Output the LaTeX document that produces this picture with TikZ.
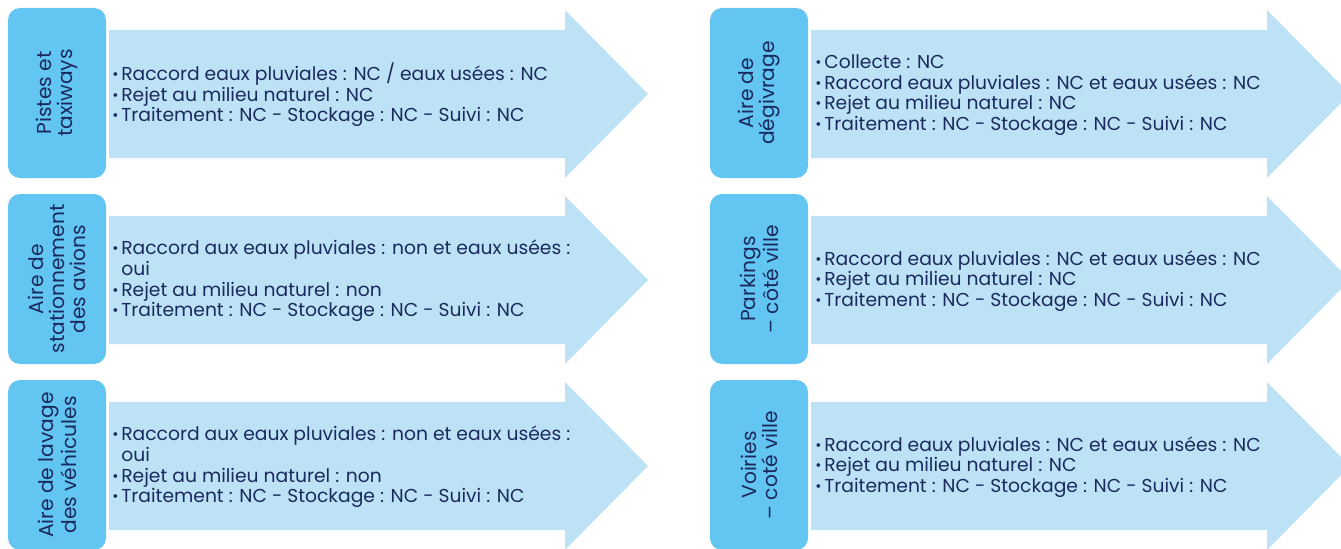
\documentclass[tikz,border=0pt]{standalone}
\usepackage{fontspec}
\setmainfont{Poppins}
\usepackage{xcolor}
\usetikzlibrary{positioning}
\definecolor{blue1}{HTML}{63C5F1}
\definecolor{blue2}{HTML}{BDE2F5}
\definecolor{navy1}{HTML}{1B2A5E}
\newcommand{\puce}{\makebox[0.18cm][l]{\raisebox{0.1ex}{\scalebox{0.8}{\textbullet}}}}
\newcommand{\suite}{\hspace*{0.18cm}}
\newcommand{\fleche}{\fill[blue2] (2.02,0.40) -- (11.14,0.40) -- (11.14,0) -- (12.80,1.68) -- (11.14,3.36) -- (11.14,2.96) -- (2.02,2.96) -- cycle;}
\tikzset{
  zone/.style={fill=blue1, rounded corners=0.24cm, rotate=90, minimum width=3.40cm, minimum height=1.96cm, inner sep=0pt, align=center, text=navy1, font=\fontsize{11.5}{12}\selectfont},
  liste/.style={anchor=west, inner sep=0pt, align=left, text=navy1, font=\fontsize{10.65}{11.7}\selectfont},
}

\begin{document}
\begin{tikzpicture}

\clip (0,0) rectangle (26.82,10.96);

% colonne de gauche
\begin{scope}[shift={(0.16,7.40)}]
\fleche
\node[zone] (pistes) at (0.98,1.70) {Pistes et\\taxiways};
\node[liste] (pistesT) at (2.08,1.66) {\puce Raccord eaux pluviales : NC / eaux usées : NC\\
\puce Rejet au milieu naturel : NC\\
\puce Traitement : NC - Stockage : NC - Suivi : NC};
\end{scope}

\begin{scope}[shift={(0.16,3.68)}]
\fleche
\node[zone] (station) at (0.98,1.70) {Aire de\\stationnement\\des avions};
\node[liste] (stationT) at (2.08,1.66) {\puce Raccord aux eaux pluviales : non et eaux usées :\\
\suite oui\\
\puce Rejet au milieu naturel : non\\
\puce Traitement : NC - Stockage : NC - Suivi : NC};
\end{scope}

\begin{scope}[shift={(0.16,-0.04)}]
\fleche
\node[zone] (lavage) at (0.98,1.70) {Aire de lavage\\des véhicules};
\node[liste] (lavageT) at (2.08,1.66) {\puce Raccord aux eaux pluviales : non et eaux usées :\\
\suite oui\\
\puce Rejet au milieu naturel : non\\
\puce Traitement : NC - Stockage : NC - Suivi : NC};
\end{scope}

% colonne de droite
\begin{scope}[shift={(14.20,7.40)}]
\fleche
\node[zone] (degivrage) at (0.98,1.70) {Aire de\\dégivrage};
\node[liste] (degivrageT) at (2.10,1.66) {\puce Collecte : NC\\
\puce Raccord eaux pluviales : NC et eaux usées : NC\\
\puce Rejet au milieu naturel : NC\\
\puce Traitement : NC - Stockage : NC - Suivi : NC};
\end{scope}

\begin{scope}[shift={(14.20,3.68)}]
\fleche
\node[zone] (parkings) at (0.98,1.70) {Parkings\\– côté ville};
\node[liste] (parkingsT) at (2.10,1.66) {\puce Raccord eaux pluviales : NC et eaux usées : NC\\
\puce Rejet au milieu naturel : NC\\
\puce Traitement : NC - Stockage : NC - Suivi : NC};
\end{scope}

\begin{scope}[shift={(14.20,-0.04)}]
\fleche
\node[zone] (voiries) at (0.98,1.70) {Voiries\\– coté ville};
\node[liste] (voiriesT) at (2.10,1.66) {\puce Raccord eaux pluviales : NC et eaux usées : NC\\
\puce Rejet au milieu naturel : NC\\
\puce Traitement : NC - Stockage : NC - Suivi : NC};
\end{scope}

\end{tikzpicture}
\end{document}
